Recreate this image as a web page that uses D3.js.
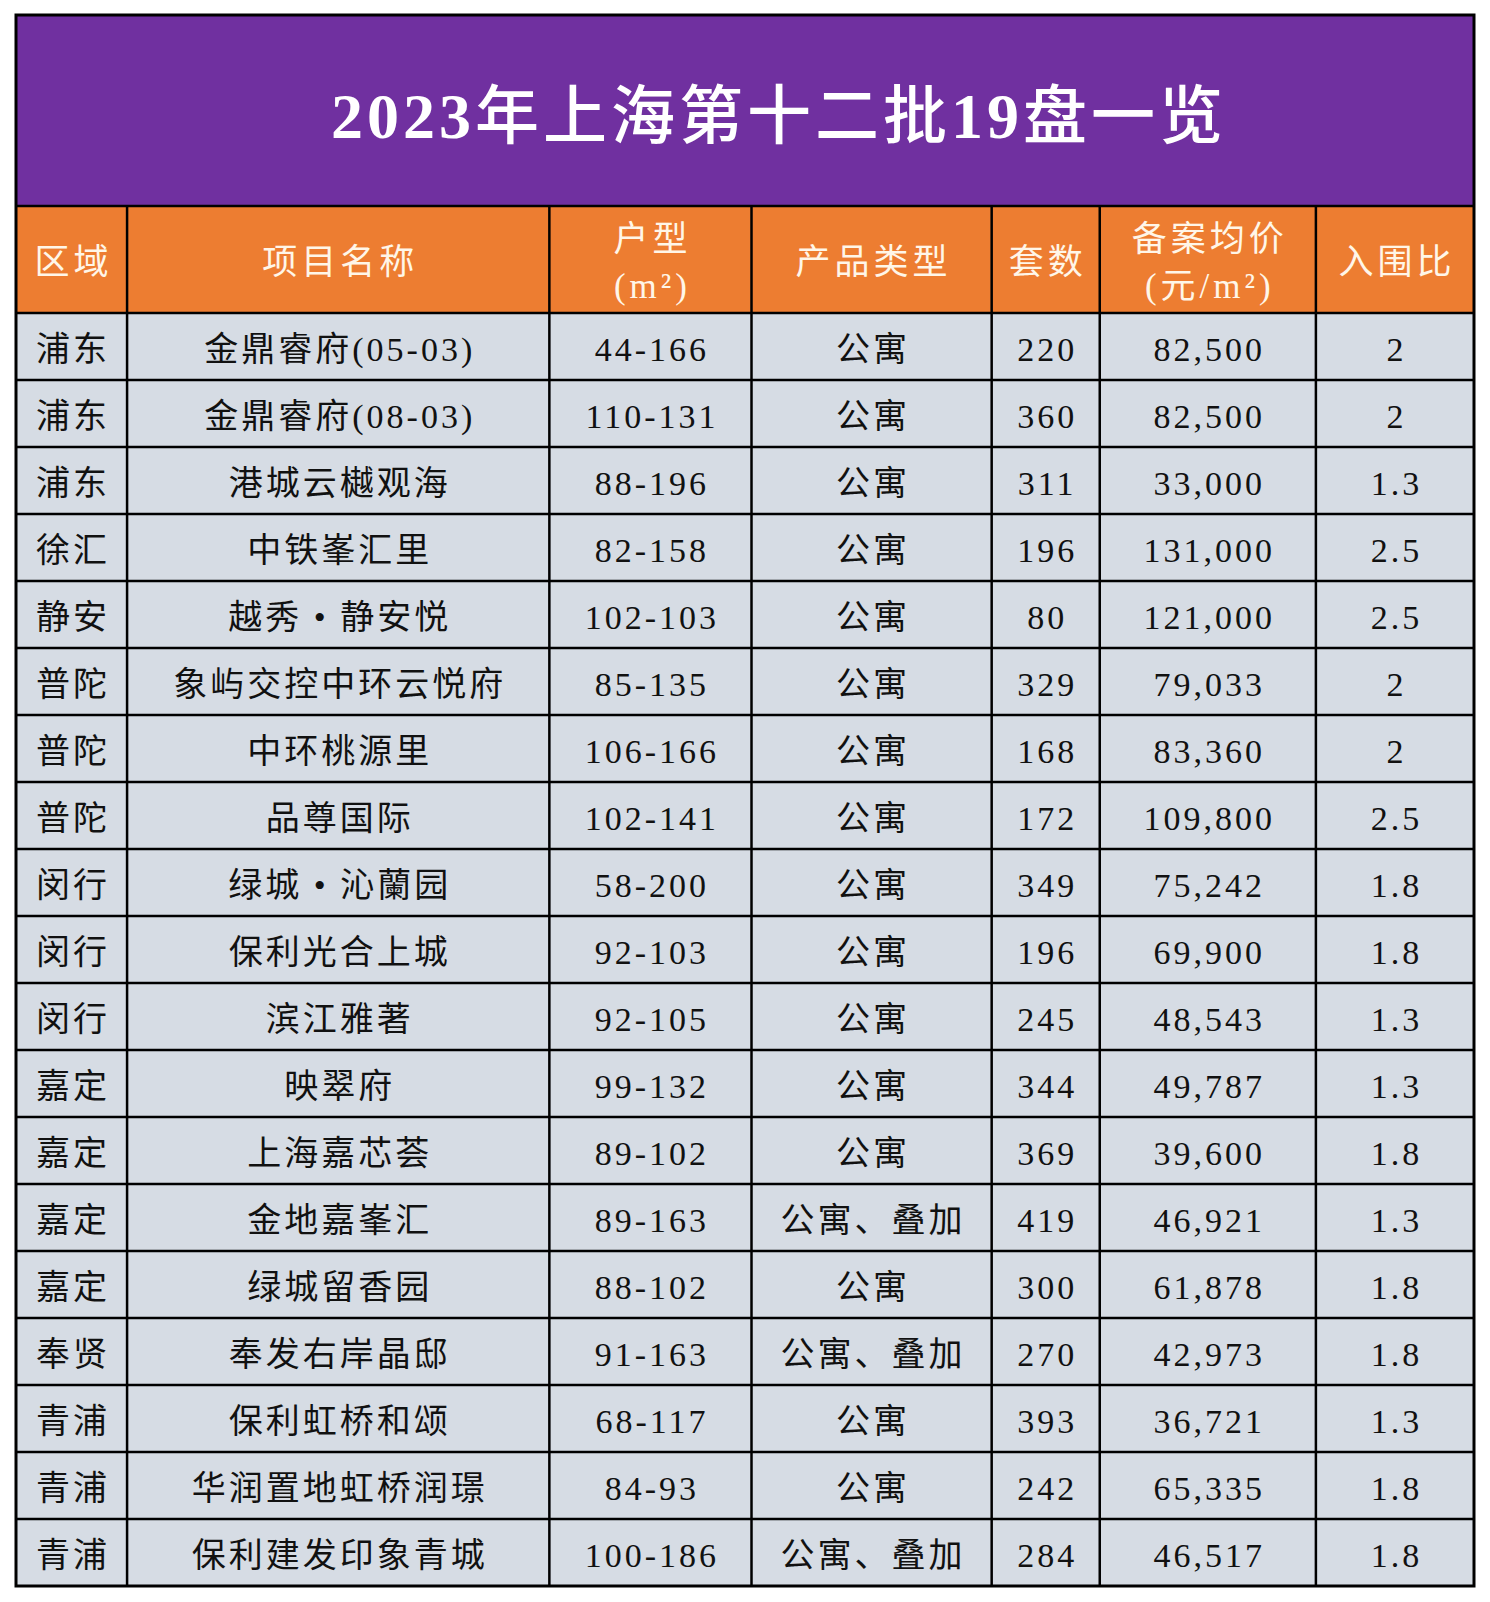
<!DOCTYPE html>
<html>
<head>
<meta charset="utf-8">
<script src="https://cdn.jsdelivr.net/npm/d3@7"></script>
<style>
  html, body { margin: 0; padding: 0; background: #fff; }
  svg { display: block; }
</style>
</head>
<body>
<svg id="chart"></svg>
<script>
'use strict';

const title = '2023年上海第十二批19盘一览';
const headers = [['区域'], ['项目名称'], ['户型', '(m²)'], ['产品类型'], ['套数'], ['备案均价', '(元/m²)'], ['入围比']];

const districts = ['浦东', '浦东', '浦东', '徐汇', '静安', '普陀', '普陀', '普陀', '闵行', '闵行', '闵行', '嘉定', '嘉定', '嘉定', '嘉定', '奉贤', '青浦', '青浦', '青浦'];
const projects = ['金鼎睿府(05-03)', '金鼎睿府(08-03)', '港城云樾观海', '中铁峯汇里', '越秀 • 静安悦', '象屿交控中环云悦府', '中环桃源里', '品尊国际', '绿城 • 沁蘭园', '保利光合上城', '滨江雅著', '映翠府', '上海嘉芯荟', '金地嘉峯汇', '绿城留香园', '奉发右岸晶邸', '保利虹桥和颂', '华润置地虹桥润璟', '保利建发印象青城'];
const sizes = ['44-166', '110-131', '88-196', '82-158', '102-103', '85-135', '106-166', '102-141', '58-200', '92-103', '92-105', '99-132', '89-102', '89-163', '88-102', '91-163', '68-117', '84-93', '100-186'];
const types = ['公寓', '公寓', '公寓', '公寓', '公寓', '公寓', '公寓', '公寓', '公寓', '公寓', '公寓', '公寓', '公寓', '公寓、叠加', '公寓', '公寓、叠加', '公寓', '公寓', '公寓、叠加'];
const units = [220, 360, 311, 196, 80, 329, 168, 172, 349, 196, 245, 344, 369, 419, 300, 270, 393, 242, 284];
const prices = [82500, 82500, 33000, 131000, 121000, 79033, 83360, 109800, 75242, 69900, 48543, 49787, 39600, 46921, 61878, 42973, 36721, 65335, 46517];
const ratios = [2, 2, 1.3, 2.5, 2.5, 2, 2, 2.5, 1.8, 1.8, 1.3, 1.3, 1.8, 1.3, 1.8, 1.8, 1.3, 1.8, 1.8];

// layout
const W = 1490, H = 1602;
const tLeft = 16, tRight = 1474, tTop = 15;
const titleBottom = 206, headBottom = 313, tBottom = 1586;
const colWidths = [111, 422, 202, 240, 108, 216, 158];
const FONT = '"Liberation Serif", "Noto Sans CJK SC", serif';

const svg = d3.select('#chart').attr('width', W).attr('height', H);

const colScale = d3.scaleLinear()
    .domain([0, d3.sum(colWidths)])
    .range([tLeft, tRight]);
const edges = [0].concat(Array.from(d3.cumsum(colWidths))).map(v => colScale(v));

const y = d3.scaleBand()
    .domain(d3.range(districts.length))
    .range([headBottom, tBottom]);

const fmt = d3.format(',');
const rows = districts.map((d, i) => [d, projects[i], sizes[i], types[i], String(units[i]), fmt(prices[i]), String(ratios[i])]);

// title band
svg.append('rect')
    .attr('x', tLeft).attr('y', tTop)
    .attr('width', tRight - tLeft).attr('height', titleBottom - tTop)
    .style('fill', '#7030A0');

const titleText = svg.append('text')
    .attr('x', (tLeft + tRight) / 2 + 34)
    .attr('y', (tTop + titleBottom) / 2 + 5)
    .attr('text-anchor', 'middle')
    .attr('dominant-baseline', 'central')
    .style('font-family', FONT)
    .style('font-size', '64px')
    .style('letter-spacing', '4px')
    .style('fill', '#fff');

titleText.selectAll('tspan')
    .data(title.match(/\d+|\D+/g))
  .enter().append('tspan')
    .style('font-weight', d => /\d/.test(d) ? 'bold' : 500)
    .text(d => d);

// header band
svg.append('rect')
    .attr('x', tLeft).attr('y', titleBottom)
    .attr('width', tRight - tLeft).attr('height', headBottom - titleBottom)
    .style('fill', '#ED7D31');

const headMid = (titleBottom + headBottom) / 2 + 3;
headers.forEach((lines, c) => {
  const cx = (edges[c] + edges[c + 1]) / 2 + 2;
  const t = svg.append('text')
      .attr('text-anchor', 'middle')
      .style('font-family', FONT)
      .style('font-size', '35px')
      .style('letter-spacing', '4px')
      .style('fill', '#FFF6E8');
  lines.forEach((s, k) => {
    const dy = lines.length === 1 ? 0 : (k === 0 ? -23 : 24);
    t.append('tspan')
        .attr('x', cx)
        .attr('y', headMid + dy)
        .attr('dominant-baseline', 'central')
        .text(s);
  });
});

// data rows
svg.selectAll('.row-bg')
    .data(rows)
  .enter().append('rect')
    .attr('class', 'row-bg')
    .attr('x', tLeft)
    .attr('y', (d, i) => y(i))
    .attr('width', tRight - tLeft)
    .attr('height', y.bandwidth())
    .style('fill', '#D6DCE4');

rows.forEach((r, i) => {
  svg.selectAll(null)
      .data(r)
    .enter().append('text')
      .attr('x', (d, c) => (edges[c] + edges[c + 1]) / 2 + 1.5)
      .attr('y', y(i) + y.bandwidth() / 2 + 3)
      .attr('text-anchor', 'middle')
      .attr('dominant-baseline', 'central')
      .style('font-family', FONT)
      .style('font-size', '34px')
      .style('letter-spacing', '3px')
      .style('fill', '#111')
      .text(d => d);
});

// grid lines
const grid = svg.append('g').style('stroke', '#000').style('fill', 'none');

grid.append('line')
    .attr('x1', tLeft).attr('x2', tRight)
    .attr('y1', titleBottom).attr('y2', titleBottom)
    .style('stroke-width', 2.5);

grid.selectAll('.h-line')
    .data(d3.range(districts.length))
  .enter().append('line')
    .attr('x1', tLeft).attr('x2', tRight)
    .attr('y1', i => y(i)).attr('y2', i => y(i))
    .style('stroke-width', 2.5);

grid.selectAll('.v-line')
    .data(edges.slice(1, -1))
  .enter().append('line')
    .attr('x1', d => d).attr('x2', d => d)
    .attr('y1', titleBottom).attr('y2', tBottom)
    .style('stroke-width', 2.5);

grid.append('rect')
    .attr('x', tLeft).attr('y', tTop)
    .attr('width', tRight - tLeft).attr('height', tBottom - tTop)
    .style('stroke-width', 3);
</script>
</body>
</html>
